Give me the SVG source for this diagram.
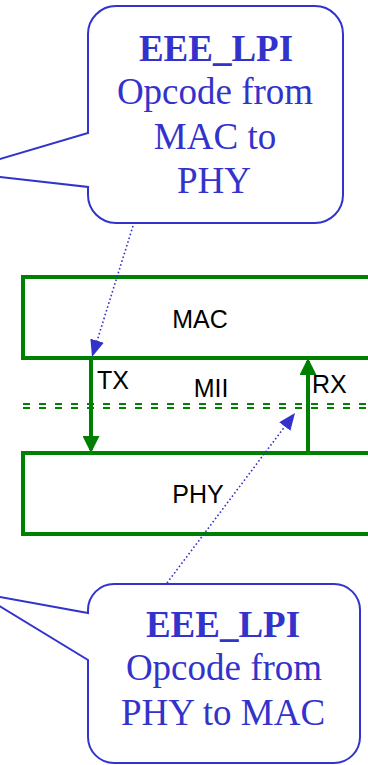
<svg xmlns="http://www.w3.org/2000/svg" width="368" height="765" viewBox="0 0 368 765">
<style>
.blk{fill:#fff;stroke:#008000;stroke-width:4}
.lbl{font-family:"Liberation Sans",Arial,sans-serif;font-size:25px;fill:#000}
.call{fill:#fff;stroke:#3333CC;stroke-width:2;stroke-linejoin:miter}
.ct{font-family:"Liberation Serif","Times New Roman",serif;font-size:37px;fill:#3333CC;text-anchor:middle}
.b{font-weight:bold}
.g{stroke:#008000;stroke-width:4;fill:none}
.mii{stroke:#008000;stroke-width:2;stroke-dasharray:7 9;fill:none}
.dot{stroke:#3333CC;stroke-width:1.6;stroke-dasharray:1.6 2.4;fill:none}
</style>
<defs>
<marker id="ga" viewBox="0 0 17 17" refX="14" refY="8.5" markerWidth="17" markerHeight="17" markerUnits="userSpaceOnUse" orient="auto"><path d="M0,0 L17,8.5 L0,17 Z" fill="#008000"/></marker>
<marker id="ba" viewBox="0 0 17 14" refX="15" refY="7" markerWidth="17" markerHeight="14" markerUnits="userSpaceOnUse" orient="auto"><path d="M0,0 L17,7 L0,14 Z" fill="#3333CC"/></marker>
</defs>
<g id="mac">
<rect class="blk" x="23" y="277" width="370" height="81"/>
<text class="lbl" x="200" y="328" text-anchor="middle">MAC</text>
</g>
<g id="phy">
<rect class="blk" x="23" y="453" width="370" height="81"/>
<text class="lbl" x="198" y="503" text-anchor="middle">PHY</text>
</g>
<g id="mii">
<line class="mii" x1="23" y1="404" x2="368" y2="404"/>
<line class="mii" x1="23" y1="408" x2="368" y2="408"/>
<text class="lbl" x="211" y="397" text-anchor="middle">MII</text>
<text class="lbl" x="97" y="389">TX</text>
<text class="lbl" x="312" y="393">RX</text>
</g>
<g id="callout-top">
<path class="call" d="M116,6 H315 A28,28 0 0 1 343,34 V195 A28,28 0 0 1 315,223 H116 A28,28 0 0 1 88,195 V187 L-44,172 L88,133 V34 A28,28 0 0 1 116,6 Z"/>
<text class="ct b" x="216" y="61">EEE_LPI</text>
<text class="ct" x="215" y="104">Opcode from</text>
<text class="ct" x="215" y="149">MAC to</text>
<text class="ct" x="214" y="193">PHY</text>
</g>
<g id="callout-bottom">
<path class="call" d="M114,584 H334 A26,26 0 0 1 360,610 V737 A26,26 0 0 1 334,763 H114 A26,26 0 0 1 88,737 V660 L-22,593 L88,613 V610 A26,26 0 0 1 114,584 Z"/>
<text class="ct b" x="223" y="637">EEE_LPI</text>
<text class="ct" x="224" y="680">Opcode from</text>
<text class="ct" x="223" y="725">PHY to MAC</text>
</g>
<g id="connectors">
<line class="g" x1="91" y1="358" x2="91" y2="450" marker-end="url(#ga)"/>
<line class="g" x1="308" y1="453" x2="308" y2="361" marker-end="url(#ga)"/>
<line class="dot" x1="133" y1="226" x2="92.6" y2="355" marker-end="url(#ba)"/>
<line class="dot" x1="167" y1="583" x2="293.8" y2="414.6" marker-end="url(#ba)"/>
</g>
</svg>
